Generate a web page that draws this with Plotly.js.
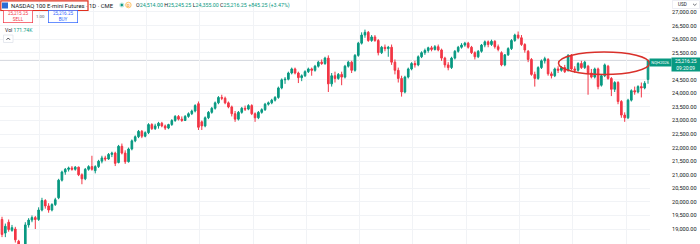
<!DOCTYPE html>
<html>
<head>
<meta charset="utf-8">
<script src="https://cdn.plot.ly/plotly-3.0.1.min.js"></script>
<style>html,body{margin:0;padding:0;background:#fff;}#chart{width:700px;height:244px;}</style>
</head>
<body>
<div id="chart"></div>
<script>
// Daily candles (NQH2026), oldest to newest
const openP = [19350,18850,19250,18950,19000,18550,18250,18450,19150,19330,19420,19350,19700,20050,19850,19700,19900,20150,20800,21100,
21200,21250,21200,21280,21000,20850,21200,21300,21150,21300,21500,21620,21580,21750,21800,21450,22050,21800,21480,21950,
22250,22400,22600,22420,22550,22850,22700,22800,22900,22800,22720,22850,23000,23150,23050,23000,23150,23250,23350,23620,
22950,22800,23100,23300,23450,23650,23850,23820,23650,23500,23250,23050,23300,23450,23420,23550,23250,23100,23300,23400,
23600,23650,23750,23850,24200,24500,24520,24750,24900,24750,24580,24650,24800,24900,24850,25000,25150,25100,25300,24350,
24650,24550,24700,24600,25000,25150,24850,25400,25850,26150,26250,25950,26080,25950,25500,25700,25650,25700,25150,24850,
24550,24050,24600,24900,25100,25050,25350,25500,25580,25680,25620,25720,25600,25300,25050,24950,25300,25550,25700,25780,
25850,25700,25500,25350,25550,25780,25900,25800,25920,25720,25500,25050,25420,25650,25950,26150,26050,25800,25550,25250,
24700,24550,24950,25200,25250,24720,24650,24900,24850,24950,24850,25400,24900,24850,25100,24950,25000,24750,24600,24900,
24300,24650,25000,24550,24150,24400,23700,23200,23100,23750,24100,24050,24250,24200,24514];
const highP = [19450,19200,19350,19150,19080,18600,18420,19250,19400,19500,19480,19800,20150,20100,19950,19950,20150,20850,21150,21250,
21300,21320,21320,21300,21050,21250,21350,21700,21350,21550,21700,21700,21800,21850,21850,22100,22150,21900,22000,22300,
22450,22650,22650,22600,22900,22900,22880,22950,22950,22850,22880,23050,23200,23200,23150,23200,23300,23400,23600,23700,
23000,23150,23350,23500,23700,23900,23950,23880,23700,23550,23350,23350,23500,23550,23600,23600,23300,23350,23450,23650,
23700,23800,23900,24250,24550,24600,24800,24950,24950,24800,24700,24850,24950,24950,25050,25200,25250,25350,25400,24750,
24800,24750,24800,25050,25200,25200,25450,25900,26250,26350,26300,26150,26150,26000,25750,25800,25750,25800,25250,24950,
24650,24650,24950,25150,25200,25400,25550,25650,25720,25750,25780,25800,25650,25350,25150,25350,25600,25750,25850,25900,
25900,25750,25550,25600,25820,25950,25950,25980,25960,25800,25550,25450,25700,26000,26200,26280,26150,25850,25600,25300,
24800,25000,25250,25350,25300,24800,24950,25000,25000,25050,25450,25450,25000,25150,25200,25200,25050,24900,24950,24950,
24700,25100,25050,24600,24450,24450,23750,23300,23800,24150,24250,24300,24400,24450,25245.25];
const lowP = [18700,18700,18900,18900,18500,18150,18100,18400,19050,19250,19000,19300,19650,19750,19600,19650,19850,20100,20750,21000,
21120,21150,21150,20950,20650,20800,21150,21150,21050,21250,21420,21500,21550,21650,21320,21420,21750,21400,21450,21900,
22200,22350,22350,22380,22500,22650,22650,22700,22750,22650,22680,22800,22950,23000,22950,22980,23100,23200,23300,22650,
22650,22750,23050,23250,23400,23600,23750,23600,23450,23150,22950,23000,23250,23350,23380,23200,22950,23050,23250,23350,
23550,23600,23700,23800,24150,24350,24480,24700,24700,24380,24450,24600,24750,24650,24800,24950,25050,25050,24050,24250,
24400,24500,24300,24550,24950,24750,24800,25350,25800,26050,25900,25900,25900,25400,25450,25550,25350,25050,24700,24400,
23880,24000,24550,24850,24950,25000,25300,25420,25500,25550,25580,25550,25200,24950,24850,24900,25250,25500,25650,25720,
25650,25450,25250,25300,25500,25700,25700,25750,25650,25550,25000,25000,25380,25600,25900,26000,25750,25500,25150,24650,
24250,24500,24900,25100,24650,24550,24600,24750,24800,24750,24800,24850,24750,24800,24900,24900,23950,24550,24550,24150,
24250,24600,24500,23900,24050,23600,23100,22950,23050,23700,23950,24000,23850,24150,24355];
const closeP = [18800,19100,18980,19050,18600,18250,18400,19150,19330,19420,19350,19700,20050,19850,19700,19900,20080,20800,21100,21200,
21250,21200,21280,21000,20850,21200,21300,21200,21300,21500,21620,21580,21750,21800,21420,22050,21800,21480,21950,22250,
22400,22600,22420,22550,22850,22700,22800,22900,22800,22720,22850,23000,23150,23050,23000,23150,23250,23350,23550,22750,
22800,23100,23300,23450,23650,23850,23820,23650,23500,23250,23050,23300,23450,23420,23550,23250,23100,23300,23400,23600,
23650,23750,23850,24200,24500,24520,24750,24900,24750,24580,24650,24800,24900,24850,25000,25150,25100,25300,24350,24650,
24550,24700,24600,25000,25150,24850,25400,25850,26150,26250,25950,26080,25950,25500,25700,25650,25700,25150,24850,24550,
24050,24600,24900,25100,25050,25350,25500,25580,25680,25620,25720,25600,25300,25050,24950,25300,25550,25700,25780,25850,
25700,25500,25350,25550,25780,25900,25800,25920,25720,25620,25050,25420,25650,25950,26150,26050,25800,25600,25250,24700,
24550,24950,25200,25280,24720,24650,24900,24850,24950,24800,25400,24900,24850,25100,24950,25150,24750,24600,24900,24250,
24650,25050,24550,24150,24400,23700,23200,23100,23750,24100,24050,24250,24200,24371,25216.25];
// 25,000.00 is hidden behind the last-price label in the reference, so it is not listed
const priceTicks = [19000,19500,20000,20500,21000,21500,22000,22500,23000,23500,24000,24500,25500,26000,26500,27000];
const symbolTitle = "NASDAQ 100 E-mini Futures · 1D · CME";
const ohlcLabels = {o:"24,514.00", h:"25,245.25", l:"24,355.00", c:"25,216.25", chg:"+845.25 (+3.47%)"};
const sellPrice = "25,215.25", buyPrice = "25,216.25", qty = "1.00", volText = "171.74K";
const contract = "NQH2026", lastTime = "09:20:09";

const idx = closeP.map((_, i) => i);
const W = 700, H = 244, PW = 650;
const X = px => px / PW;
const Y = py => 1 - py / H;
const GREEN = '#089981', RED = '#f23645', FONT = 'Roboto, Liberation Sans, Arial, sans-serif';

const trace = {
  type: 'candlestick', x: idx, open: openP, high: highP, low: lowP, close: closeP,
  increasing: {line: {color: GREEN, width: 1}, fillcolor: GREEN},
  decreasing: {line: {color: RED, width: 1}, fillcolor: RED},
  whiskerwidth: 0, hoverinfo: 'skip', showlegend: false
};

const last = closeP[closeP.length - 1];
const fmt = v => v.toLocaleString('en-US', {minimumFractionDigits: 2, maximumFractionDigits: 2});

const shapes = [
  // last price line
  {type: 'line', xref: 'paper', yref: 'y', x0: 0, x1: 1, y0: last, y1: last, line: {color: '#d3d7dd', width: 1}, layer: 'below'},
  // symbol icon
  {type: 'rect', xref: 'paper', yref: 'paper', x0: X(2), x1: X(8), y0: Y(8.5), y1: Y(2.5), fillcolor: '#2a6cd6', line: {width: 0}},
  // red box around title
  {type: 'rect', xref: 'paper', yref: 'paper', x0: X(0.8), x1: X(88), y0: Y(10.5), y1: Y(0.8), line: {color: '#e0301e', width: 1.2}},
  // status dot
  {type: 'circle', xref: 'paper', yref: 'paper', x0: X(119.3), x1: X(124.3), y0: Y(7.5), y1: Y(2.5), fillcolor: 'rgba(8,153,129,0.25)', line: {width: 0}},
  {type: 'circle', xref: 'paper', yref: 'paper', x0: X(120.6), x1: X(123), y0: Y(6.2), y1: Y(3.8), fillcolor: GREEN, line: {width: 0}},
  // D circle
  {type: 'circle', xref: 'paper', yref: 'paper', x0: X(125.6), x1: X(131.2), y0: Y(7.8), y1: Y(2.2), fillcolor: '#fff3e0', line: {color: '#ffa726', width: 0.6}},
  // collapse icon
  {type: 'rect', xref: 'paper', yref: 'paper', x0: X(3.5), x1: X(13), y0: Y(42.5), y1: Y(35), fillcolor: '#fff', line: {color: '#e0e3eb', width: 0.8}},
  {type: 'path', xref: 'paper', yref: 'paper', path: `M${X(6.5)},${Y(39.8)} L${X(8.25)},${Y(38)} L${X(10)},${Y(39.8)}`, line: {color: '#131722', width: 0.8}},
  // USD box
  {type: 'rect', xref: 'paper', yref: 'paper', x0: X(672.5), x1: X(699.5), y0: Y(8.5), y1: Y(0.5), line: {color: '#e0e3eb', width: 0.6}},
  {type: 'path', xref: 'paper', yref: 'paper', path: `M${X(693)},${Y(3.8)} L${X(694.8)},${Y(5.4)} L${X(696.6)},${Y(3.8)}`, line: {color: '#131722', width: 0.6}},
  // hand-drawn red ellipse
  {type: 'circle', xref: 'paper', yref: 'paper', x0: X(558.5), x1: X(649.5), y0: Y(74.5), y1: Y(52), line: {color: '#d9302a', width: 1.5}}
];

const ann = (o) => Object.assign({xref: 'paper', yref: 'paper', showarrow: false, font: {family: FONT, size: 5.5, color: '#131722'}}, o);
const g = s => `<span style="color:${GREEN}">${s}</span>`;
const annotations = [
  ann({x: X(9.2), y: Y(5.6), xanchor: 'left', yanchor: 'middle', text: symbolTitle, font: {family: FONT, size: 5.9, color: '#131722'}}),
  ann({x: X(128.4), y: Y(5.2), xanchor: 'center', yanchor: 'middle', text: 'D', font: {family: FONT, size: 3.8, color: '#f57c00'}}),
  ann({x: X(133.5), y: Y(5.6), xanchor: 'left', yanchor: 'middle',
       text: `O${g(ohlcLabels.o)} H${g(ohlcLabels.h)} L${g(ohlcLabels.l)} C${g(ohlcLabels.c)} ${g(ohlcLabels.chg)}`,
       font: {family: FONT, size: 5.3, color: '#131722'}}),
  ann({x: X(18), y: Y(16.5), xanchor: 'center', yanchor: 'middle', text: `${sellPrice}<br>SELL`, align: 'center',
       bordercolor: RED, borderwidth: 0.7, borderpad: 0.5, bgcolor: '#fff', width: 28, height: 11,
       font: {family: FONT, size: 4.6, color: RED}}),
  ann({x: X(40), y: Y(16.5), xanchor: 'center', yanchor: 'middle', text: qty, font: {family: FONT, size: 4.3, color: '#50535e'}}),
  ann({x: X(62.5), y: Y(16.5), xanchor: 'center', yanchor: 'middle', text: `${buyPrice}<br>BUY`, align: 'center',
       bordercolor: '#2962ff', borderwidth: 0.7, borderpad: 0.5, bgcolor: '#fff', width: 28, height: 11,
       font: {family: FONT, size: 4.6, color: '#2962ff'}}),
  ann({x: X(2.8), y: Y(29.5), xanchor: 'left', yanchor: 'middle', text: `Vol ${g(volText)}`, font: {family: FONT, size: 5.1, color: '#131722'}}),
  ann({x: X(675.5), y: Y(4.6), xanchor: 'left', yanchor: 'middle', text: 'USD', font: {family: FONT, size: 4.6, color: '#131722'}}),
  ann({x: X(660.5), y: Y(62.2), xanchor: 'center', yanchor: 'middle', text: contract, bgcolor: GREEN, borderpad: 0.6,
       width: 20, height: 5.5, font: {family: FONT, size: 4.1, color: '#ffffff'}}),
  ann({x: X(686.4), y: Y(64.5), xanchor: 'center', yanchor: 'middle', text: `${fmt(last)}<br>${lastTime}`, align: 'center',
       bgcolor: GREEN, borderpad: 0.8, width: 26, height: 11.5, font: {family: FONT, size: 4.9, color: '#ffffff'}})
];

const layout = {
  width: W, height: H, margin: {l: 0, r: 50, t: 0, b: 0},
  paper_bgcolor: '#fff', plot_bgcolor: '#fff', showlegend: false,
  xaxis: {range: [-0.6, 194.6], showticklabels: false, ticks: '', showgrid: true, gridcolor: '#f1f3f6', gridwidth: 1,
          tick0: 11.4, dtick: 16, zeroline: false, showline: false, rangeslider: {visible: false}, fixedrange: true},
  yaxis: {side: 'right', range: [18447, 27442], tickvals: priceTicks, ticktext: priceTicks.map(fmt),
          ticks: '', ticklabelstandoff: 21, showgrid: true, gridcolor: '#f1f3f6', gridwidth: 1, zeroline: false, showline: false,
          tickfont: {family: FONT, size: 5.6, color: '#131722'}, fixedrange: true},
  shapes: shapes, annotations: annotations
};

Plotly.newPlot('chart', [trace], layout, {displayModeBar: false, staticPlot: true});
</script>
</body>
</html>
